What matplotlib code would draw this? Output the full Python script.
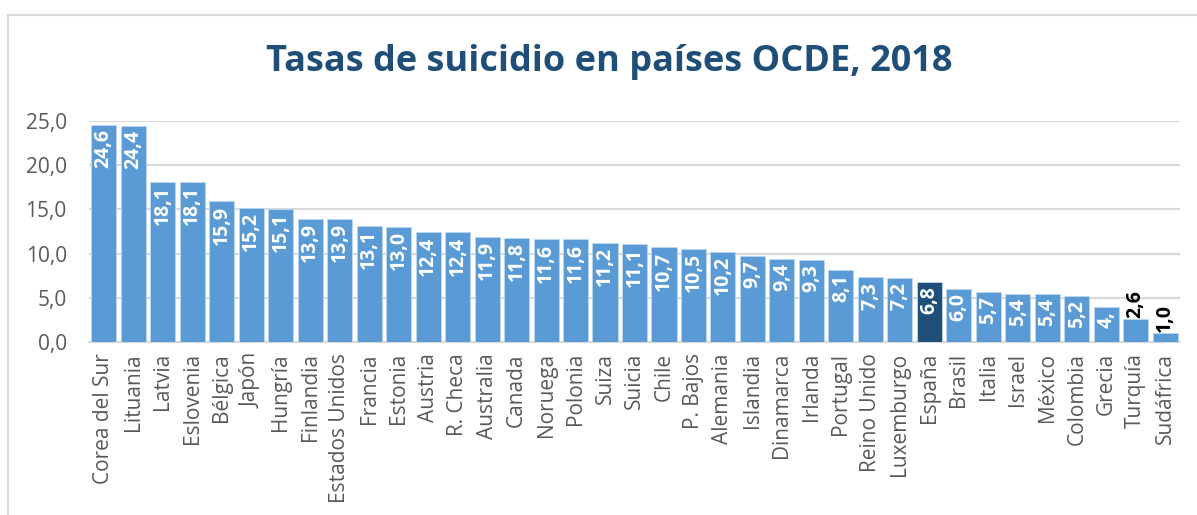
import matplotlib.pyplot as plt
import matplotlib.patches as mpatches

# Data
paises = ['Corea del Sur', 'Lituania', 'Latvia', 'Eslovenia', 'Bélgica', 'Japón',
          'Hungría', 'Finlandia', 'Estados Unidos', 'Francia', 'Estonia', 'Austria',
          'R. Checa', 'Australia', 'Canada', 'Noruega', 'Polonia', 'Suiza', 'Suicia',
          'Chile', 'P. Bajos', 'Alemania', 'Islandia', 'Dinamarca', 'Irlanda',
          'Portugal', 'Reino Unido', 'Luxemburgo', 'España', 'Brasil', 'Italia',
          'Israel', 'México', 'Colombia', 'Grecia', 'Turquía', 'Sudáfrica']
tasas = [24.6, 24.4, 18.1, 18.1, 15.9, 15.2, 15.1, 13.9, 13.9, 13.1, 13.0, 12.4,
         12.4, 11.9, 11.8, 11.6, 11.6, 11.2, 11.1, 10.7, 10.5, 10.2, 9.7, 9.4, 9.3,
         8.1, 7.3, 7.2, 6.8, 6.0, 5.7, 5.4, 5.4, 5.2, 3.95, 2.6, 1.0]
etiquetas = ['24,6', '24,4', '18,1', '18,1', '15,9', '15,2', '15,1', '13,9', '13,9',
             '13,1', '13,0', '12,4', '12,4', '11,9', '11,8', '11,6', '11,6', '11,2',
             '11,1', '10,7', '10,5', '10,2', '9,7', '9,4', '9,3', '8,1', '7,3', '7,2',
             '6,8', '6,0', '5,7', '5,4', '5,4', '5,2', '4,', '2,6', '1,0']
yticks = [0, 5, 10, 15, 20, 25]
ytick_labels = ['0,0', '5,0', '10,0', '15,0', '20,0', '25,0']

azul = '#5B9BD5'
azul_osc = '#1F4E79'
gris = '#595959'

plt.rcParams['font.family'] = ['Open Sans', 'DejaVu Sans']

fig = plt.figure(figsize=(11.97, 5.15), dpi=100)

# chart border (only left and top visible in the crop)
fig.add_artist(mpatches.Rectangle((8 / 1197, -0.1), 1.2, (515 - 15) / 515 + 0.1,
                                  transform=fig.transFigure, fill=False,
                                  edgecolor='#D9D9D9', linewidth=1.5))

ax = fig.add_axes([89 / 1197, 1 - 342 / 515, (1180 - 89) / 1197, 221 / 515])

colores = [azul_osc if p == 'España' else azul for p in paises]
x = list(range(len(paises)))
ax.bar(x, tasas, width=0.85, color=colores, edgecolor='#BDD7EE', linewidth=0.6, zorder=3)

for i, (v, lab) in enumerate(zip(tasas, etiquetas)):
    if v < 3:
        ax.annotate(lab, (i, v), xytext=(0, 1), textcoords='offset points',
                    rotation=90, ha='center', va='bottom', color='black',
                    fontsize=14, fontweight='bold', zorder=4)
    else:
        ax.annotate(lab, (i, v), xytext=(0, -3), textcoords='offset points',
                    rotation=90, ha='center', va='top', color='white',
                    fontsize=14, fontweight='bold', zorder=4)

ax.set_xlim(-0.5, len(paises) - 0.5)
ax.set_ylim(0, 25)
ax.set_yticks(yticks)
ax.set_yticklabels(ytick_labels)
ax.set_xticks(x)
ax.set_xticklabels(paises, rotation=90)
ax.tick_params(axis='y', length=0, labelsize=15, labelcolor=gris, pad=16)
ax.tick_params(axis='x', length=0, labelsize=15, labelcolor=gris, pad=8)
ax.grid(axis='y', color='#D9D9D9', linewidth=1.5, zorder=0)
for s in ['top', 'right', 'left']:
    ax.spines[s].set_visible(False)
ax.spines['bottom'].set_color('#D9D9D9')
ax.spines['bottom'].set_linewidth(1.5)

fig.text(609 / 1197, 1 - 62 / 515, 'Tasas de suicidio en países OCDE, 2018',
         ha='center', va='center', fontsize=26, fontweight='bold', color=azul_osc)

fig.savefig('out.png', dpi=100)
